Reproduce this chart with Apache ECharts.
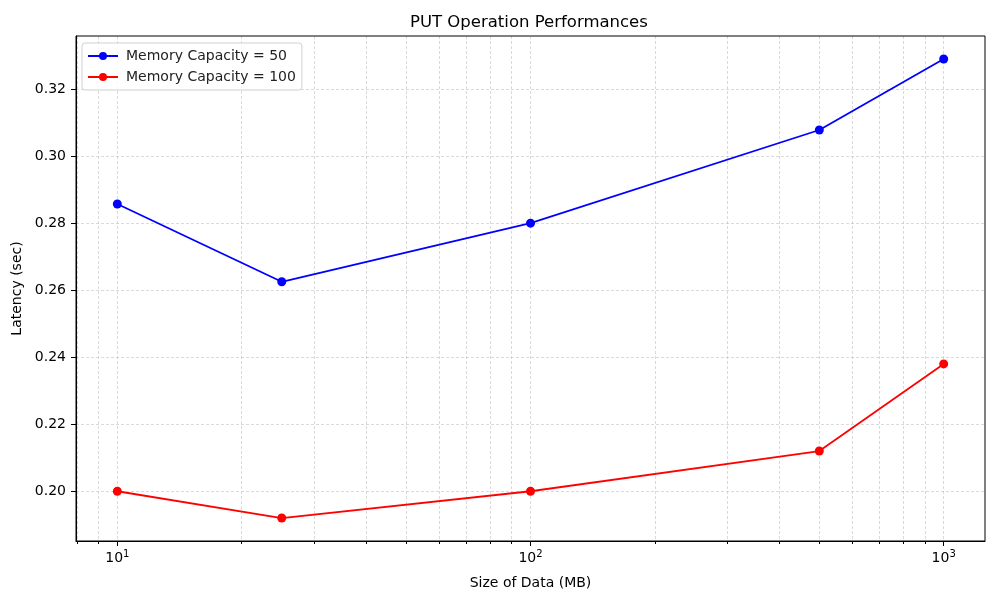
<!DOCTYPE html>
<html><head><meta charset="utf-8">
<script src="https://cdn.jsdelivr.net/npm/echarts@6/dist/echarts.min.js"></script>
<style>html,body{margin:0;padding:0;background:#fff}#c{width:1000px;height:600px}</style>
</head><body><div id="c"></div>
<script>
const sizes = [10, 25, 100, 500, 1000];
const latency50 = [0.2857, 0.2625, 0.2800, 0.3078, 0.3290];
const latency100 = [0.2000, 0.1920, 0.2000, 0.2120, 0.2380];
const yTicks = [0.20, 0.22, 0.24, 0.26, 0.28, 0.30, 0.32];
const xMajorTicks = [10, 100, 1000];
const xMinorTicks = [8, 9, 20, 30, 40, 50, 60, 70, 80, 90, 200, 300, 400, 500, 600, 700, 800, 900];

const font = 'DejaVu Sans';
const chart = echarts.init(document.getElementById('c'));
const gridLine = {show: true, lineStyle: {color: '#b0b0b0', type: [3, 2], width: 0.6, opacity: 0.8}};
chart.setOption({
  animation: false,
  textStyle: {fontFamily: font},
  title: {text: 'PUT Operation Performances', left: 410, top: 14, padding: 0,
    textStyle: {fontFamily: font, fontSize: 16.5, fontWeight: 'normal', color: '#000'}},
  legend: {
    left: 82, top: 43, orient: 'vertical', itemGap: 7, itemWidth: 30, itemHeight: 10,
    padding: [6, 6, 6, 5],
    borderColor: '#d0d0d0', borderWidth: 1, borderRadius: 3, backgroundColor: 'rgba(255,255,255,0.8)',
    textStyle: {fontFamily: font, fontSize: 14, color: '#222', padding: [0, 0, 0, 3]},
    data: ['Memory Capacity = 50', 'Memory Capacity = 100']
  },
  grid: {left: 76, right: 15, top: 36, bottom: 59, containLabel: false},
  xAxis: [{
    type: 'log', logBase: 10, min: 7.943, max: 1258.9,
    name: 'Size of Data (MB)', nameLocation: 'middle', nameGap: 35,
    nameTextStyle: {fontFamily: font, fontSize: 14, color: '#000'},
    axisLine: {show: true, onZero: false, lineStyle: {color: '#000', width: 1}},
    axisTick: {show: true, length: 5, lineStyle: {color: '#000'}, customValues: xMajorTicks},
    axisLabel: {show: true, margin: 8, color: '#000', fontSize: 14, fontFamily: font,
      customValues: xMajorTicks,
      formatter: v => '10{sup|' + Math.round(Math.log10(v)) + '}',
      rich: {sup: {fontSize: 10, fontFamily: font, color: '#000', verticalAlign: 'top', padding: [0, 0, 8, 0]}}},
    splitLine: gridLine
  }, {
    type: 'log', logBase: 10, min: 7.943, max: 1258.9, position: 'bottom',
    axisLine: {show: false},
    axisTick: {show: true, length: 3, lineStyle: {color: '#000'}, customValues: xMinorTicks},
    axisLabel: {show: false},
    splitLine: gridLine
  }],
  yAxis: {
    type: 'value', min: 0.18515, max: 0.33585,
    name: 'Latency (sec)', nameLocation: 'middle', nameGap: 46,
    nameTextStyle: {fontFamily: font, fontSize: 14, color: '#000'},
    axisLine: {show: true, onZero: false, lineStyle: {color: '#000', width: 1}},
    axisTick: {show: true, length: 5, lineStyle: {color: '#000'}, customValues: yTicks},
    axisLabel: {color: '#000', fontSize: 14, fontFamily: font, margin: 10, customValues: yTicks,
      formatter: v => v.toFixed(2)},
    splitLine: gridLine
  },
  series: [{
    name: 'Memory Capacity = 50', type: 'line',
    data: sizes.map((s, i) => [s, latency50[i]]),
    symbol: 'circle', symbolSize: 9,
    lineStyle: {color: '#0000ff', width: 1.8}, itemStyle: {color: '#0000ff'}
  }, {
    name: 'Memory Capacity = 100', type: 'line',
    data: sizes.map((s, i) => [s, latency100[i]]),
    symbol: 'circle', symbolSize: 9,
    lineStyle: {color: '#ff0000', width: 1.8}, itemStyle: {color: '#ff0000'}
  }],
  graphic: [{type: 'rect', shape: {x: 76, y: 36, width: 909, height: 505},
    style: {fill: 'none', stroke: '#000', lineWidth: 1}, silent: true, z: 10}]
});
</script></body></html>
